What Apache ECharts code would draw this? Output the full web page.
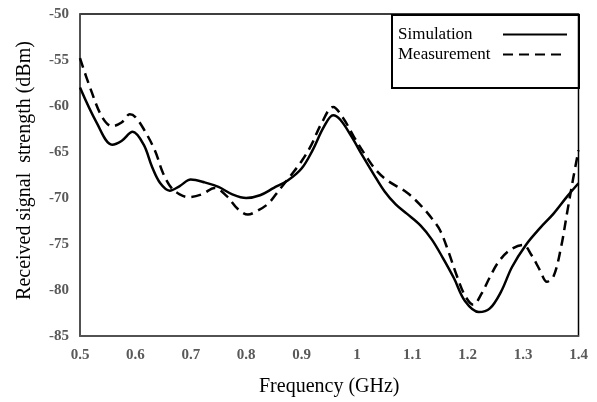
<!DOCTYPE html>
<html>
<head>
<meta charset="utf-8">
<script src="https://cdn.jsdelivr.net/npm/echarts@6/dist/echarts.min.js"></script>
<style>html,body{margin:0;padding:0;background:#fff;}#c{width:597px;height:402px;}</style>
</head>
<body>
<div id="c"></div>
<script>
const seriesNames = ['Simulation', 'Measurement'];
const simFreq = [0.5,0.53,0.558,0.575,0.595,0.615,0.63,0.645,0.662,0.68,0.70,0.725,0.75,0.775,0.80,0.825,0.85,0.875,0.90,0.92,0.94,0.957,0.97,0.99,1.01,1.03,1.05,1.07,1.09,1.115,1.135,1.155,1.175,1.195,1.22,1.24,1.26,1.28,1.305,1.33,1.355,1.38,1.40];
const simValues = [-58.0,-61.8,-64.2,-63.8,-62.8,-64.2,-66.6,-68.4,-69.2,-68.7,-68.0,-68.3,-68.8,-69.6,-70.0,-69.7,-68.9,-68.1,-66.8,-64.8,-62.3,-61.0,-61.5,-63.3,-65.4,-67.4,-69.3,-70.7,-71.7,-73.0,-74.5,-76.5,-78.7,-81.2,-82.4,-82.0,-80.2,-77.5,-75.1,-73.3,-71.7,-69.8,-68.4];
const measFreq = [0.5,0.52,0.54,0.558,0.575,0.59,0.60,0.615,0.635,0.65,0.665,0.68,0.695,0.72,0.743,0.765,0.785,0.803,0.82,0.84,0.86,0.88,0.90,0.918,0.935,0.957,0.975,0.995,1.017,1.035,1.055,1.09,1.115,1.135,1.15,1.165,1.18,1.195,1.21,1.225,1.24,1.255,1.275,1.30,1.315,1.33,1.343,1.355,1.368,1.38,1.39,1.40];
const measValues = [-54.8,-58.3,-61.2,-62.2,-61.8,-60.9,-61.2,-62.5,-64.8,-67.3,-68.9,-69.6,-69.9,-69.6,-68.9,-69.8,-71.2,-71.8,-71.4,-70.6,-69.1,-67.6,-66.0,-64.2,-62.0,-60.1,-61.3,-63.4,-65.5,-67.0,-68.1,-69.4,-70.8,-72.2,-73.5,-75.8,-78.4,-80.6,-81.6,-80.4,-78.6,-77.0,-75.7,-75.1,-76.2,-77.8,-79.1,-78.5,-75.5,-71.4,-68.0,-64.8];
const xTicks = {min: 0.5, max: 1.4, interval: 0.1};
const yTicks = {min: -85, max: -50, interval: 5};

const pair = (xs, ys) => xs.map((x, i) => [x, ys[i]]);
const chart = echarts.init(document.getElementById('c'), null, {renderer: 'canvas'});
const tickLabel = {color: '#595959', fontFamily: 'Liberation Serif', fontWeight: 'bold', fontSize: 15};
const nameStyle = {fontFamily: 'Liberation Serif', fontSize: 20, color: '#000'};
chart.setOption({
  animation: false,
  backgroundColor: '#fff',
  grid: {left: 80, right: 18.5, top: 14, bottom: 66, show: true, borderColor: '#000', borderWidth: 1.5, containLabel: false},
  legend: {
    orient: 'vertical', align: 'right', left: 393, top: 21,
    itemWidth: 64, itemHeight: 14, itemGap: 3, itemTextGap: 6,
    itemStyle: {opacity: 0, borderWidth: 0},
    formatter: '{t|{name}}',
    textStyle: {fontFamily: 'Liberation Serif', fontSize: 17, color: '#000',
      rich: {t: {width: 100, align: 'left', fontFamily: 'Liberation Serif', fontSize: 17, color: '#000'}}},
    data: seriesNames
  },
  graphic: [{
    type: 'rect', left: 391, top: 14,
    shape: {width: 187, height: 73},
    style: {fill: 'rgba(0,0,0,0)', stroke: '#000', lineWidth: 2}, z: 100
  }],
  xAxis: {
    type: 'value', min: xTicks.min, max: xTicks.max, interval: xTicks.interval,
    name: 'Frequency (GHz)', nameLocation: 'middle', nameGap: 41,
    nameTextStyle: nameStyle,
    axisLine: {show: true, lineStyle: {color: '#595959', width: 1.5}},
    axisTick: {show: false}, splitLine: {show: false},
    axisLabel: Object.assign({margin: 12}, tickLabel)
  },
  yAxis: {
    type: 'value', min: yTicks.min, max: yTicks.max, interval: yTicks.interval,
    name: 'Received signal  strength (dBm)', nameLocation: 'middle', nameGap: 45,
    nameTextStyle: Object.assign({padding: [0, 0, 0, 9]}, nameStyle),
    axisLine: {show: true, lineStyle: {color: '#595959', width: 1.5}},
    axisTick: {show: false}, splitLine: {show: false},
    axisLabel: Object.assign({margin: 11}, tickLabel)
  },
  series: [
    {name: seriesNames[0], type: 'line', data: pair(simFreq, simValues), smooth: 0.35, symbol: 'none',
     lineStyle: {color: '#000', width: 2.5, type: 'solid'}, itemStyle: {color: '#000'}},
    {name: seriesNames[1], type: 'line', data: pair(measFreq, measValues), smooth: 0.35, symbol: 'none',
     lineStyle: {color: '#000', width: 2.5, type: [10, 6]}, itemStyle: {color: '#000'}}
  ]
});
</script>
</body>
</html>
